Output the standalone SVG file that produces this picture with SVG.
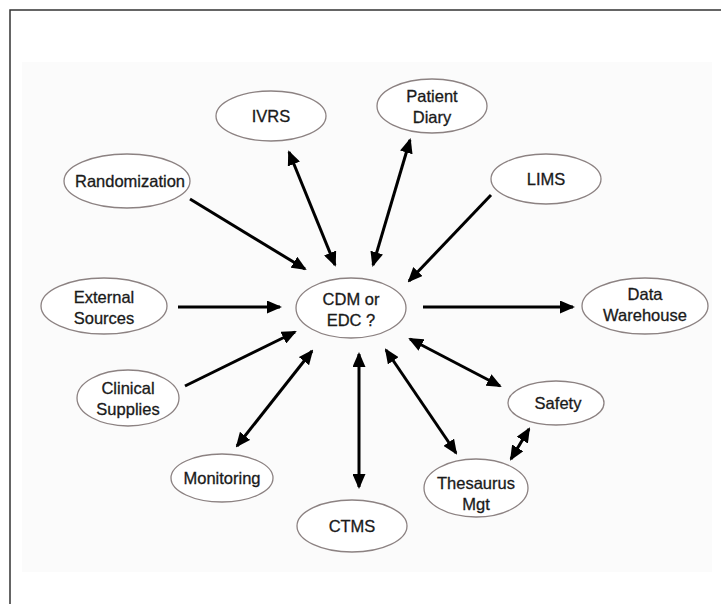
<svg xmlns="http://www.w3.org/2000/svg" width="721" height="604" viewBox="0 0 721 604">
<style>
.n ellipse{fill:#ffffff;stroke:#8c8282;stroke-width:1.3}
.n text{font-family:"Liberation Sans",Arial,sans-serif;font-size:16.5px;fill:#1a1a1a;stroke:#1a1a1a;stroke-width:0.3;text-anchor:middle}
.c line{stroke:#000;stroke-width:3}
</style>
<defs>
<marker id="ah" viewBox="0 0 15 13" refX="13" refY="6.5" markerWidth="15" markerHeight="13" markerUnits="userSpaceOnUse" orient="auto-start-reverse">
<path d="M0,0 L15,6.5 L0,13 z" fill="#000"/>
</marker>
</defs>
<rect x="0" y="0" width="721" height="604" fill="#ffffff"/>
<rect x="22" y="62" width="690" height="510" fill="#fbfbfb"/>
<path d="M10,604 V10 H721" fill="none" stroke="#333" stroke-width="1.5"/>

<g class="c">
<line x1="190" y1="199" x2="305" y2="269" marker-end="url(#ah)"/>
<line x1="289" y1="152" x2="335" y2="265" marker-start="url(#ah)" marker-end="url(#ah)"/>
<line x1="410" y1="140" x2="373" y2="265" marker-start="url(#ah)" marker-end="url(#ah)"/>
<line x1="491" y1="195" x2="409" y2="281" marker-end="url(#ah)"/>
<line x1="178" y1="307" x2="280" y2="307" marker-end="url(#ah)"/>
<line x1="423" y1="307" x2="573" y2="307" marker-end="url(#ah)"/>
<line x1="185" y1="386" x2="295" y2="332" marker-end="url(#ah)"/>
<line x1="312" y1="351" x2="237" y2="446" marker-start="url(#ah)" marker-end="url(#ah)"/>
<line x1="359" y1="354" x2="359" y2="487" marker-start="url(#ah)" marker-end="url(#ah)"/>
<line x1="386" y1="350" x2="456" y2="453" marker-start="url(#ah)" marker-end="url(#ah)"/>
<line x1="410" y1="339" x2="500" y2="386" marker-start="url(#ah)" marker-end="url(#ah)"/>
<line x1="529" y1="429" x2="511" y2="459" marker-start="url(#ah)" marker-end="url(#ah)"/>
</g>

<g id="ivrs" class="n"><ellipse cx="271" cy="116" rx="55" ry="25"/><text x="271" y="122">IVRS</text></g>
<g id="patient-diary" class="n"><ellipse cx="432" cy="106" rx="55" ry="27"/><text x="432" y="102">Patient</text><text x="432" y="123">Diary</text></g>
<g id="randomization" class="n"><ellipse cx="127" cy="181" rx="63" ry="27"/><text x="130" y="187">Randomization</text></g>
<g id="lims" class="n"><ellipse cx="546" cy="179" rx="55" ry="25"/><text x="546" y="185">LIMS</text></g>
<g id="external-sources" class="n"><ellipse cx="104" cy="306" rx="63" ry="28"/><text x="104" y="303">External</text><text x="104" y="324">Sources</text></g>
<g id="cdm" class="n"><ellipse cx="351" cy="308" rx="55" ry="30"/><text x="351" y="305">CDM or</text><text x="351" y="326">EDC ?</text></g>
<g id="data-warehouse" class="n"><ellipse cx="645" cy="306" rx="63" ry="28"/><text x="645" y="300">Data</text><text x="645" y="321">Warehouse</text></g>
<g id="clinical-supplies" class="n"><ellipse cx="128" cy="398" rx="51" ry="28"/><text x="128" y="394">Clinical</text><text x="128" y="415">Supplies</text></g>
<g id="safety" class="n"><ellipse cx="556" cy="403" rx="48" ry="22"/><text x="558" y="409">Safety</text></g>
<g id="monitoring" class="n"><ellipse cx="222" cy="478" rx="51" ry="24"/><text x="222" y="484">Monitoring</text></g>
<g id="ctms" class="n"><ellipse cx="352" cy="526" rx="55" ry="26"/><text x="352" y="532">CTMS</text></g>
<g id="thesaurus-mgt" class="n"><ellipse cx="476" cy="488" rx="52" ry="29"/><text x="476" y="489">Thesaurus</text><text x="476" y="510">Mgt</text></g>
</svg>
